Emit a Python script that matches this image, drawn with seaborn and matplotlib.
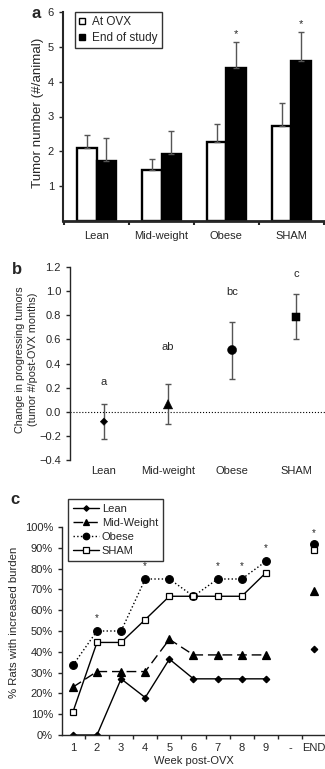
import numpy as np
import pandas as pd
import matplotlib
matplotlib.use("Agg")
import matplotlib.pyplot as plt
from matplotlib.lines import Line2D
import seaborn as sns

# ---- panel a: tumor number per animal ----
groups = ["Lean", "Mid-weight", "Obese", "SHAM"]
at_ovx = [2.11, 1.47, 2.28, 2.72]
at_ovx_err_top = [2.47, 1.77, 2.79, 3.39]
end_study = [1.73, 1.92, 4.40, 4.60]
end_study_err_top = [2.38, 2.57, 5.13, 5.43]
star_groups_a = ["Obese", "SHAM"]

# ---- panel b: change in progressing tumors ----
change_mean = [-0.082, 0.062, 0.512, 0.788]
change_low = [-0.226, -0.104, 0.27, 0.603]
change_high = [0.064, 0.23, 0.747, 0.976]
letters_b = ["a", "ab", "bc", "c"]
letter_y_b = [0.25, 0.54, 0.99, 1.14]

# ---- panel c: % rats with increased burden ----
week_labels = ["1", "2", "3", "4", "5", "6", "7", "8", "9", "-", "END"]
lean_pct = [0, 0, 27, 18, 36.5, 27, 27, 27, 27]
mid_pct = [23, 30.5, 30.5, 30.5, 46, 38.5, 38.5, 38.5, 38.5]
obese_pct = [33.5, 50, 50, 75, 75, 66.7, 75, 75, 83.5]
sham_pct = [11, 44.5, 44.5, 55.5, 66.7, 66.7, 66.7, 66.7, 78]
end_pct = {"Lean": 41.5, "Mid-Weight": 69, "Obese": 92, "SHAM": 89}
star_weeks_c = ["2", "4", "7", "8", "9", "END"]
star_y_c = [56, 81, 81, 81, 90, 97]

sns.set_style("ticks")
plt.rcParams["font.family"] = ["Liberation Sans", "DejaVu Sans"]
plt.rcParams["font.size"] = 8
ERR = "#555555"

fig = plt.figure(figsize=(3.25, 7.69), dpi=100)
W, H = 325.0, 769.0


def px_axes(left, top, right, bottom):
    return fig.add_axes([left / W, 1 - bottom / H, (right - left) / W, (bottom - top) / H])


# =============== panel a ===============
ax_a = px_axes(63, 12, 325, 221)
df_a = pd.DataFrame({
    "group": groups * 2,
    "time": ["At OVX"] * 4 + ["End of study"] * 4,
    "value": at_ovx + end_study,
})
sns.barplot(data=df_a, x="group", y="value", hue="time", order=groups,
            palette={"At OVX": "white", "End of study": "black"},
            edgecolor="black", linewidth=1.7, width=0.6, errorbar=None,
            legend=False, ax=ax_a)
pos = np.arange(len(groups))
for offs, vals, tops in [(-0.15, at_ovx, at_ovx_err_top), (0.15, end_study, end_study_err_top)]:
    vals = np.array(vals)
    tops = np.array(tops)
    ax_a.errorbar(pos + offs, vals, yerr=[np.zeros_like(vals), tops - vals],
                  fmt="none", ecolor=ERR, elinewidth=1, capsize=2.2, capthick=1, zorder=1)
for g in star_groups_a:
    i = groups.index(g)
    ax_a.text(i + 0.15, end_study_err_top[i] + 0.08, "*", ha="center", va="bottom", fontsize=8)
ax_a.set_xlim(-0.52, 3.52)
ax_a.set_ylim(0, 6)
ax_a.set_yticks([1, 2, 3, 4, 5, 6])
ax_a.set_xticks(np.arange(-0.5, 4, 1))
ax_a.set_xticklabels([])
ax_a.set_xticks(pos, minor=True)
ax_a.set_xticklabels(groups, minor=True)
ax_a.tick_params(axis="x", which="major", length=3, width=1.5, direction="out")
ax_a.tick_params(axis="x", which="minor", length=0, pad=7, labelsize=8)
ax_a.tick_params(axis="y", length=3, width=1, labelsize=8)
ax_a.set_xlabel("")
ax_a.set_ylabel("Tumor number (#/animal)", fontsize=9.6)
ax_a.yaxis.set_label_coords(-0.073, 0.52)
ax_a.spines["top"].set_visible(False)
ax_a.spines["right"].set_visible(False)
ax_a.spines["bottom"].set_linewidth(2)
ax_a.spines["left"].set_linewidth(1.5)
leg_a = ax_a.legend(handles=[
    Line2D([], [], marker="s", ls="none", mfc="white", mec="black", ms=4.5, mew=1),
    Line2D([], [], marker="s", ls="none", mfc="black", mec="black", ms=4.5, mew=1)],
    labels=["At OVX", "End of study"], loc="upper left", bbox_to_anchor=(0.045, 1.0),
    frameon=True, fancybox=False, fontsize=8.5, handlelength=0.6, handletextpad=0.5,
    borderpad=0.35, labelspacing=0.35, borderaxespad=0)
leg_a.get_frame().set_edgecolor("black")
leg_a.get_frame().set_linewidth(1)

# =============== panel b ===============
ax_b = px_axes(70, 267, 325, 460)
df_b = pd.DataFrame({"pos": pos, "group": groups, "value": change_mean})
lo = np.array(change_mean) - np.array(change_low)
hi = np.array(change_high) - np.array(change_mean)
ax_b.errorbar(pos, change_mean, yerr=[lo, hi], fmt="none", ecolor=ERR,
              elinewidth=1, capsize=2.5, capthick=1, zorder=1)
sns.scatterplot(data=df_b, x="pos", y="value", style="group", size="group",
                markers={"Lean": "D", "Mid-weight": "^", "Obese": "o", "SHAM": "s"},
                sizes={"Lean": 14, "Mid-weight": 45, "Obese": 42, "SHAM": 34},
                color="black", edgecolor="black", legend=False, zorder=3, ax=ax_b)
ax_b.axhline(0, color="black", ls=":", lw=0.8, zorder=0)
for i, lab in enumerate(letters_b):
    ax_b.text(i, letter_y_b[i], lab, ha="center", va="center", fontsize=8)
ax_b.set_xlim(-0.53, 3.45)
ax_b.set_ylim(-0.4, 1.2)
ax_b.set_yticks(np.arange(-0.4, 1.21, 0.2))
ax_b.set_yticklabels([f"{v:.1f}".replace("-", "\u2212") for v in np.arange(-0.4, 1.21, 0.2)])
ax_b.set_xticks(pos)
ax_b.set_xticklabels(groups)
ax_b.tick_params(axis="x", length=0, pad=4, labelsize=8)
ax_b.tick_params(axis="y", length=3, width=1, labelsize=8)
ax_b.set_xlabel("")
ax_b.set_ylabel("Change in progressing tumors\n(tumor #/post-OVX months)", fontsize=7.8,
                linespacing=1.45)
ax_b.yaxis.set_label_coords(-0.125, 0.52)
for s in ["top", "right", "bottom"]:
    ax_b.spines[s].set_visible(False)
ax_b.spines["left"].set_linewidth(1)

# =============== panel c ===============
ax_c = px_axes(62, 527, 325, 735)
xw = np.arange(1, len(week_labels) + 1)
series = [
    ("Lean", lean_pct, dict(marker="D", ms=3.3, mfc="black", ls="-")),
    ("Mid-Weight", mid_pct, dict(marker="^", ms=5.5, mfc="black", ls=(0, (7, 3.5)))),
    ("Obese", obese_pct, dict(marker="o", ms=5.5, mfc="black", ls=":")),
    ("SHAM", sham_pct, dict(marker="s", ms=5, mfc="white", ls="-")),
]
handles_c = []
for name, vals, st in series:
    sns.lineplot(x=xw[:len(vals)], y=np.array(vals) / 100, color="black", lw=1,
                 marker=st["marker"], markersize=st["ms"], markerfacecolor=st["mfc"],
                 markeredgecolor="black", markeredgewidth=0.9, linestyle=st["ls"],
                 ax=ax_c)
    ax_c.plot([xw[-1]], [end_pct[name] / 100], marker=st["marker"], ms=st["ms"],
              mfc=st["mfc"], mec="black", mew=0.9, ls="none", color="black")
    handles_c.append(Line2D([], [], color="black", lw=1, ls=st["ls"], marker=st["marker"],
                            ms=st["ms"] * 0.85, mfc=st["mfc"], mec="black", mew=0.9))
for wk, yv in zip(star_weeks_c, star_y_c):
    ax_c.text(week_labels.index(wk) + 1, yv / 100, "*", ha="center", va="center", fontsize=7)
ax_c.set_xlim(0.55, 11.45)
ax_c.set_ylim(0, 1.0)
ax_c.set_yticks(np.arange(0, 1.01, 0.1))
ax_c.set_yticklabels([f"{int(round(v * 100))}%" for v in np.arange(0, 1.01, 0.1)])
ax_c.set_xticks(np.arange(1.5, 11.5, 1))
ax_c.set_xticklabels([])
ax_c.set_xticks(xw, minor=True)
ax_c.set_xticklabels(week_labels, minor=True)
ax_c.tick_params(axis="x", which="major", length=3, width=1, direction="out")
ax_c.tick_params(axis="x", which="minor", length=0, pad=6, labelsize=8)
ax_c.tick_params(axis="y", length=3, width=1, labelsize=8)
ax_c.set_xlabel("Week post-OVX", fontsize=8, labelpad=2)
ax_c.set_ylabel("% Rats with increased burden", fontsize=8.2)
ax_c.yaxis.set_label_coords(-0.163, 0.54)
ax_c.spines["top"].set_visible(False)
ax_c.spines["right"].set_visible(False)
ax_c.spines["left"].set_linewidth(1)
ax_c.spines["bottom"].set_linewidth(1)
leg_c = ax_c.legend(handles=handles_c, labels=[s[0] for s in series], loc="upper left",
                    bbox_to_anchor=(0.023, 1.135), frameon=True, fancybox=False, fontsize=8,
                    handlelength=2.3, handletextpad=0.3, borderpad=0.45, labelspacing=0.35,
                    borderaxespad=0)
leg_c.get_frame().set_edgecolor("black")
leg_c.get_frame().set_linewidth(1)

# panel letters
fig.text(32 / W, 1 - 14 / H, "a", fontsize=12, fontweight="bold", ha="left", va="center")
fig.text(12 / W, 1 - 270 / H, "b", fontsize=12, fontweight="bold", ha="left", va="center")
fig.text(10 / W, 1 - 500 / H, "c", fontsize=12, fontweight="bold", ha="left", va="center")

fig.savefig("out.png", dpi=100)
